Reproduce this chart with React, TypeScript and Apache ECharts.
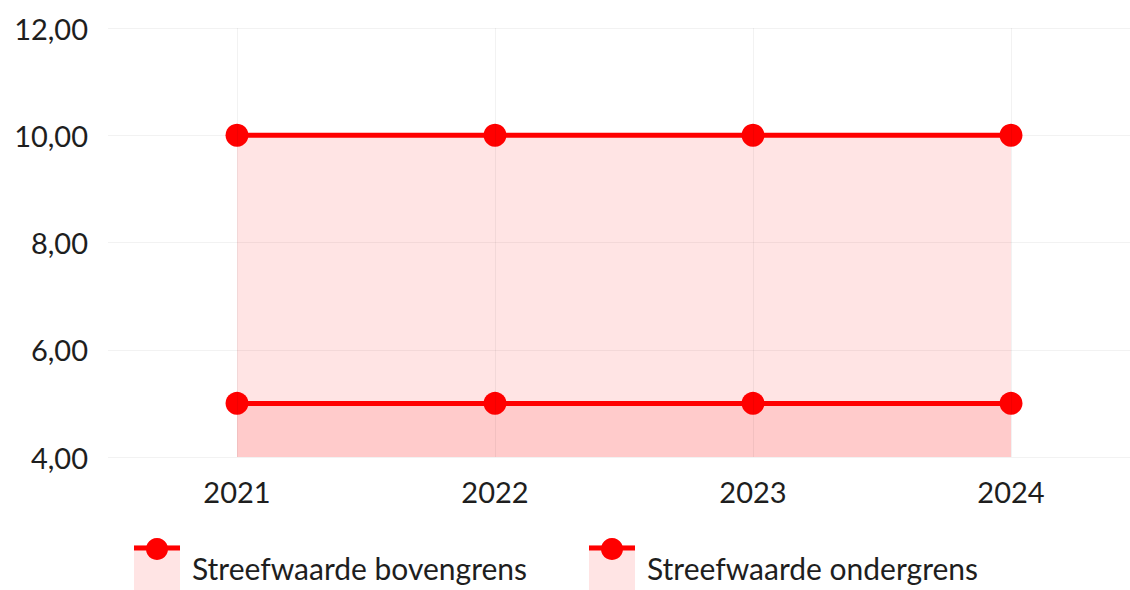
import React, { useEffect, useRef } from "react";
import * as echarts from "echarts";

const categories = ["2021", "2022", "2023", "2024"];
const seriesNames = ["Streefwaarde bovengrens", "Streefwaarde ondergrens"];
const upperValues = [10, 10, 10, 10];
const lowerValues = [5, 5, 5, 5];
const yMin = 4;
const yMax = 12;
const yInterval = 2;

const RED = "#ff0000";
const PINK = "rgba(255,0,0,0.105)";
const FONT = "Lato";
const TEXT = "#1e1e1e";

function legendItem(name: string, x: number) {
  return {
    type: "group",
    x,
    y: 545,
    children: [
      { type: "rect", shape: { x: 0, y: 0, width: 46, height: 50 }, style: { fill: PINK } },
      { type: "line", shape: { x1: 0, y1: 3, x2: 46, y2: 3 }, style: { stroke: RED, lineWidth: 5 } },
      { type: "circle", shape: { cx: 23, cy: 4, r: 11 }, style: { fill: RED } },
      {
        type: "text",
        x: 58,
        y: 23,
        style: { text: name, fill: TEXT, font: `30px ${FONT}`, textVerticalAlign: "middle" },
      },
    ],
  };
}

export default function App() {
  const ref = useRef<HTMLDivElement>(null);
  useEffect(() => {
    if (!ref.current) return;
    const chart = echarts.init(ref.current, undefined, { renderer: "svg" });
    const mkSeries = (name: string, data: number[]) => ({
      name,
      type: "line",
      data,
      z: 3,
      symbol: "circle",
      symbolSize: 23,
      itemStyle: { color: RED },
      lineStyle: { color: RED, width: 5 },
      areaStyle: { color: PINK, opacity: 1, origin: "start" },
    });
    chart.setOption({
      animation: false,
      backgroundColor: "#ffffff",
      grid: { left: 108, right: 0, top: 28, bottom: 133, containLabel: false },
      xAxis: {
        type: "category",
        data: categories,
        boundaryGap: true,
        axisLine: { show: false },
        axisTick: { show: false },
        splitLine: { show: false },
        axisLabel: { color: TEXT, fontFamily: FONT, fontSize: 29, margin: 20 },
      },
      yAxis: {
        type: "value",
        min: yMin,
        max: yMax,
        interval: yInterval,
        axisLine: { show: false },
        axisTick: { show: false },
        splitLine: { show: true, lineStyle: { color: "#f2f2f2", width: 1 } },
        axisLabel: {
          color: TEXT,
          fontFamily: FONT,
          fontSize: 29,
          margin: 20,
          formatter: (v: number) => v.toFixed(2).replace(".", ","),
        },
      },
      series: [
        {
          name: "grid-lines",
          type: "line",
          data: upperValues,
          z: 1,
          silent: true,
          showSymbol: false,
          lineStyle: { opacity: 0 },
          markLine: {
            silent: true,
            symbol: ["none", "none"],
            label: { show: false },
            lineStyle: { color: "rgba(0,0,0,0.05)", width: 1, type: "solid" },
            data: categories.map((c) => ({ xAxis: c })),
          },
        },
        mkSeries(seriesNames[0], upperValues),
        mkSeries(seriesNames[1], lowerValues),
      ],
      graphic: [legendItem(seriesNames[0], 134), legendItem(seriesNames[1], 589)],
    });
    return () => chart.dispose();
  }, []);
  return (
    <div
      style={{
        position: "absolute",
        left: 0,
        top: 0,
        width: 1130,
        height: 590,
        overflow: "hidden",
        background: "#fff",
      }}
    >
      <div ref={ref} style={{ width: 1140, height: 590 }} />
    </div>
  );
}
